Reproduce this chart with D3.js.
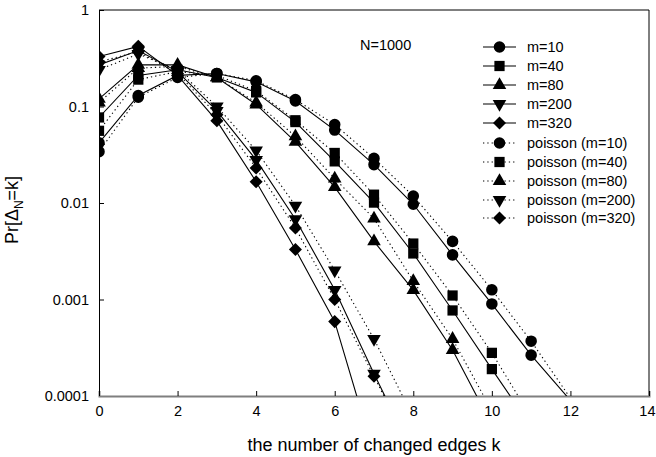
<!DOCTYPE html>
<html><head><meta charset="utf-8">
<script src="https://cdn.jsdelivr.net/npm/d3@7"></script>
<style>
html,body{margin:0;padding:0;background:#fff;}
text{font-family:Arial,"Liberation Sans",sans-serif;fill:#000;}
</style></head>
<body>
<svg id="chart" width="656" height="457"></svg>
<script>
// ---- data ----
const ks = [0,1,2,3,4,5,6,7,8,9,10,11,12];
const m10  = [0.042,0.13,0.21,0.22,0.18,0.114,0.057,0.025,0.0097,0.0029,0.0009,0.000265,0.00009];
const p10  = [0.034,0.125,0.2,0.22,0.185,0.118,0.065,0.029,0.0118,0.0040,0.00126,0.00037,0.000095];
const m40  = [0.077,0.21,0.24,0.2,0.14,0.069,0.027,0.0101,0.0030,0.00077,0.00019,0.000048];
const p40  = [0.056,0.19,0.23,0.21,0.145,0.072,0.033,0.0122,0.0038,0.0011,0.00028,0.00006];
const m80  = [0.12,0.27,0.27,0.2,0.105,0.043,0.0146,0.0040,0.00125,0.00030,0.00005];
const p80  = [0.11,0.25,0.26,0.2,0.11,0.049,0.0179,0.0069,0.00155,0.00039,0.00007];
const m200 = [0.27,0.38,0.23,0.09,0.028,0.0068,0.00126,0.00017,0.000025];
const p200 = [0.24,0.35,0.24,0.10,0.035,0.0094,0.0020,0.00039,0.00006];
const m320 = [0.33,0.42,0.21,0.071,0.0166,0.0033,0.00059,0.000025];
const p320 = [0.29,0.37,0.22,0.082,0.023,0.0055,0.0010,0.00016,0.000025];
const seriesNames = ["m=10","m=40","m=80","m=200","m=320",
  "poisson (m=10)","poisson (m=40)","poisson (m=80)","poisson (m=200)","poisson (m=320)"];
const xTicks = [0,2,4,6,8,10,12,14];
const yTicks = [0.0001,0.001,0.01,0.1,1];
const yTickLabels = ["0.0001","0.001","0.01","0.1","1"];

const shapes = ["circle","square","triangle","triangleDown","diamond"];
const seriesData = [m10,m40,m80,m200,m320,p10,p40,p80,p200,p320];

// ---- layout ----
const svg = d3.select("#chart");
const L = 99, R = 649, T = 10, B = 396;
const FS = 14.5;
const x = d3.scaleLinear().domain([0,14]).range([L,R]);
const y = d3.scaleLog().domain([0.0001,1]).range([B,T]);

svg.append("defs").append("clipPath").attr("id","clip")
  .append("rect").attr("x",L).attr("y",T).attr("width",R-L).attr("height",B-T);

function symPath(shape){
  switch(shape){
    case "circle": return d3.symbol(d3.symbolCircle, 105)();
    case "square": return d3.symbol(d3.symbolSquare, 105)();
    case "triangle": return d3.symbol(d3.symbolTriangle, 80)();
    case "triangleDown": return d3.symbol(d3.symbolTriangle, 80)();
    case "diamond": return d3.symbol(d3.symbolSquare, 85)();
  }
}
function symTransform(shape, px, py){
  if(shape==="triangleDown") return `translate(${px},${py}) rotate(180)`;
  if(shape==="diamond") return `translate(${px},${py}) rotate(45)`;
  return `translate(${px},${py})`;
}

// frame
svg.append("line").attr("x1",L).attr("x2",R).attr("y1",T).attr("y2",T).attr("stroke","#000").attr("stroke-width",1);
svg.append("line").attr("x1",R).attr("x2",R).attr("y1",T).attr("y2",B).attr("stroke","#000").attr("stroke-width",1);

// axes
const yAxis = d3.axisLeft(y).tickValues(yTicks).tickSize(-5).tickPadding(10)
  .tickFormat((d,i)=>yTickLabels[i]);
const gy = svg.append("g").attr("transform",`translate(${L},0)`).call(yAxis);
gy.select(".domain").attr("stroke","#000");
gy.selectAll(".tick line").attr("stroke","#000");
gy.selectAll("text").attr("font-size",FS).attr("font-family","Arial, 'Liberation Sans', sans-serif");

const xAxis = d3.axisBottom(x).tickValues(xTicks).tickSize(-5).tickPadding(10).tickFormat(d3.format("d"));
const gx = svg.append("g").attr("transform",`translate(0,${B})`).call(xAxis);
gx.select(".domain").attr("stroke","#7f7f7f").attr("stroke-width",2);
gx.selectAll(".tick line").attr("stroke","#000");
gx.selectAll("text").attr("font-size",FS).attr("font-family","Arial, 'Liberation Sans', sans-serif");
gx.selectAll(".tick").filter(d=>d===14).select("text").attr("text-anchor","end").attr("x",6);

// lines + markers
const plot = svg.append("g").attr("clip-path","url(#clip)");
const line = d3.line().x((d,i)=>x(ks[i])).y(d=>y(d));
seriesData.forEach((arr,si)=>{
  const dotted = si>=5;
  plot.append("path").datum(arr).attr("d",line)
    .attr("fill","none").attr("stroke","#000").attr("stroke-width",1.1)
    .attr("stroke-dasharray",dotted?"1.3,3":null);
});
seriesData.forEach((arr,si)=>{
  const shape = shapes[si%5];
  arr.forEach((v,i)=>{
    if(v < 0.0001) return;
    plot.append("path").attr("d",symPath(shape))
      .attr("transform",symTransform(shape,x(ks[i]),y(v))).attr("fill","#000");
  });
});

// legend
const lg = svg.append("g");
const rowY = [47,66,85,104,123,143,162,181,200,218];
seriesNames.forEach((name,i)=>{
  const yy = rowY[i];
  const shape = shapes[i%5];
  lg.append("line").attr("x1",483).attr("x2",516).attr("y1",yy).attr("y2",yy)
    .attr("stroke","#000").attr("stroke-width",1.1).attr("stroke-dasharray",i>=5?"1.3,3":null);
  lg.append("path").attr("d",symPath(shape)).attr("transform",symTransform(shape,499.5,yy)).attr("fill","#000");
  lg.append("text").attr("x",527).attr("y",yy+5).attr("font-size",FS).text(name);
});

svg.append("text").attr("x",360).attr("y",50).attr("font-size",FS).text("N=1000");

// axis titles
svg.append("text").attr("x",374).attr("y",451).attr("text-anchor","middle").attr("font-size",18)
  .text("the number of changed edges k");
const yt = svg.append("text").attr("transform","translate(18,210) rotate(-90)").attr("text-anchor","middle").attr("font-size",18);
yt.append("tspan").text("Pr[Δ");
yt.append("tspan").attr("font-size",12).attr("dy",5).text("N");
yt.append("tspan").attr("dy",-5).text("=k]");
</script>
</body></html>
